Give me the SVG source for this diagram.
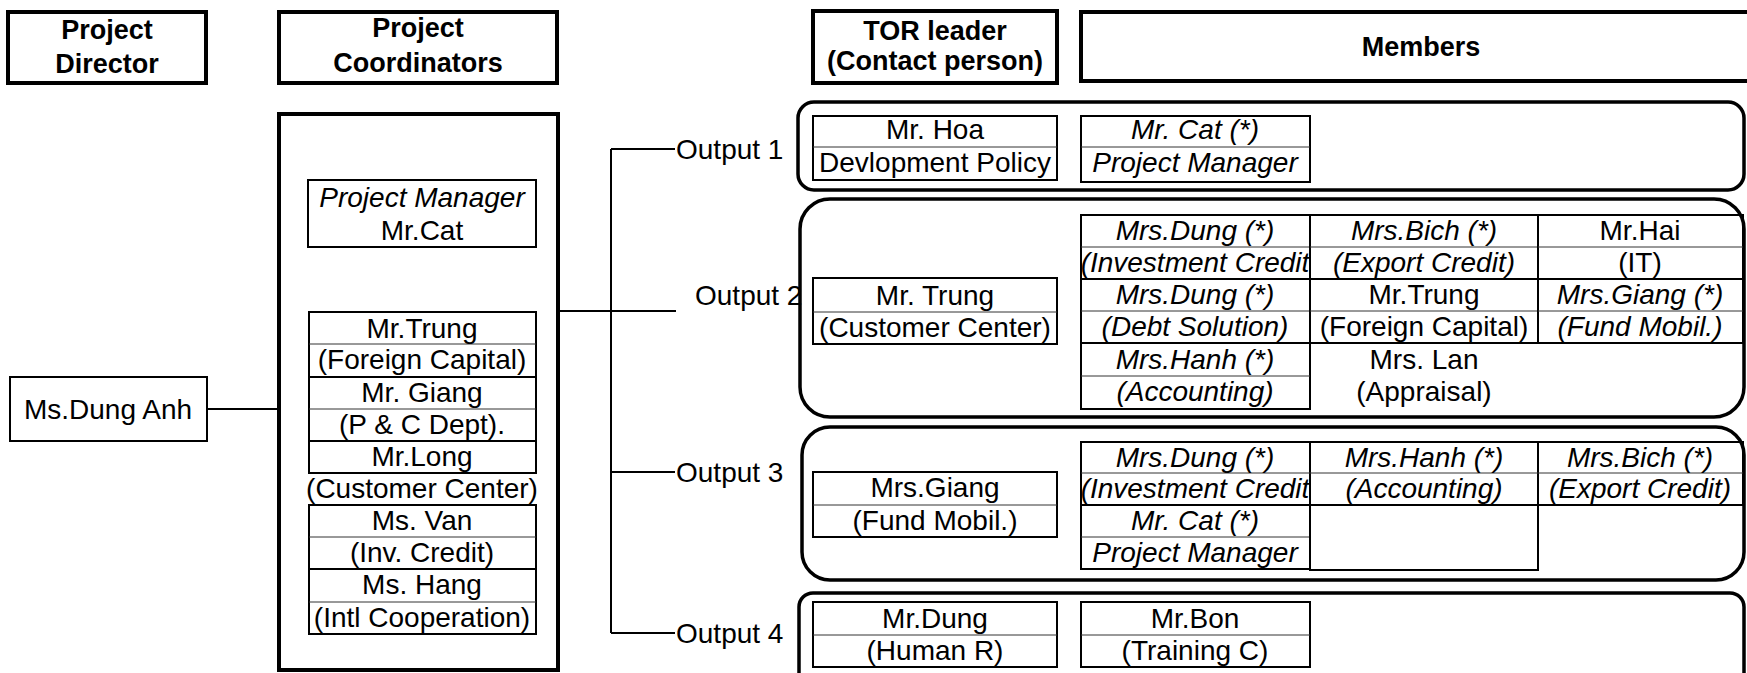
<svg xmlns="http://www.w3.org/2000/svg" width="1747" height="673" viewBox="0 0 1747 673">
<style>
.hdr{fill:none;stroke:#000;stroke-width:4}
.box{fill:none;stroke:#000;stroke-width:2}
.dv{stroke:#333;stroke-width:1;fill:none}
.grp{fill:none;stroke:#000;stroke-width:3.5}
.conn{stroke:#000;stroke-width:2;fill:none}
text{font-family:"Liberation Sans",Arial,sans-serif;font-size:28px;fill:#000;text-anchor:middle}
.b{font-weight:bold;font-size:27px}
.i{font-style:italic}
.s{text-anchor:start}
</style>
<rect width="1747" height="673" fill="#fff"/>

<g id="hdr-director">
<rect class="hdr" x="8" y="12" width="198" height="71"/>
<text class="b" x="107" y="39">Project</text>
<text class="b" x="107" y="73">Director</text>
</g>
<g id="hdr-coordinators">
<rect class="hdr" x="279" y="12" width="278" height="71"/>
<text class="b" x="418" y="37">Project</text>
<text class="b" x="418" y="72">Coordinators</text>
</g>
<g id="hdr-tor">
<rect class="hdr" x="813" y="11" width="244" height="72"/>
<text class="b" x="935" y="40">TOR leader</text>
<text class="b" x="935" y="70">(Contact person)</text>
</g>
<g id="hdr-members">
<rect class="hdr" x="1081" y="12" width="680" height="69"/>
<text class="b" x="1421" y="56">Members</text>
</g>

<g id="connectors">
<line class="conn" x1="207" y1="409" x2="279" y2="409"/>
<line class="conn" x1="558" y1="311" x2="676" y2="311"/>
<line class="conn" x1="611" y1="149" x2="611" y2="633"/>
<line class="conn" x1="611" y1="149" x2="675" y2="149"/>
<line class="conn" x1="611" y1="472" x2="675" y2="472"/>
<line class="conn" x1="611" y1="633" x2="675" y2="633"/>
</g>

<g id="director">
<rect class="box" x="10" y="377" width="197" height="64"/>
<text x="108" y="419">Ms.Dung Anh</text>
</g>

<g id="coordinators">
<rect class="hdr" x="279" y="114" width="279" height="556"/>
<rect class="box" x="308" y="180" width="228" height="67"/>
<text class="i" x="422" y="207">Project Manager</text>
<text x="422" y="240">Mr.Cat</text>

<rect class="box" x="309" y="312" width="227" height="65"/>
<line class="dv" x1="309" y1="344" x2="536" y2="344"/>
<text x="422" y="338">Mr.Trung</text>
<text x="422" y="369">(Foreign Capital)</text>

<rect class="box" x="309" y="377" width="227" height="64"/>
<line class="dv" x1="309" y1="409" x2="536" y2="409"/>
<text x="422" y="402">Mr. Giang</text>
<text x="422" y="434">(P &amp; C Dept).</text>

<rect class="box" x="309" y="441" width="227" height="32"/>
<text x="422" y="466">Mr.Long</text>
<text x="422" y="498">(Customer Center)</text>

<rect class="box" x="309" y="505" width="227" height="64"/>
<line class="dv" x1="309" y1="537" x2="536" y2="537"/>
<text x="422" y="530">Ms. Van</text>
<text x="422" y="562">(Inv. Credit)</text>

<rect class="box" x="309" y="569" width="227" height="65"/>
<line class="dv" x1="309" y1="602" x2="536" y2="602"/>
<text x="422" y="594">Ms. Hang</text>
<text x="422" y="627">(Intl Cooperation)</text>
</g>

<g id="output1">
<text class="s" x="676" y="159">Output 1</text>
<rect class="grp" x="798" y="102" width="946" height="88" rx="16"/>
<rect class="box" x="813" y="116" width="244" height="64"/>
<line class="dv" x1="813" y1="147" x2="1057" y2="147"/>
<text x="935" y="139">Mr. Hoa</text>
<text x="935" y="172">Devlopment Policy</text>
<rect class="box" x="1081" y="116" width="229" height="66"/>
<line class="dv" x1="1081" y1="147" x2="1310" y2="147"/>
<text class="i" x="1195" y="139">Mr. Cat (*)</text>
<text class="i" x="1195" y="172">Project Manager</text>
</g>

<g id="output2">
<text class="s" x="695" y="305">Output 2</text>
<rect class="grp" x="800" y="199" width="944" height="218" rx="30"/>
<rect class="box" x="813" y="278" width="244" height="66"/>
<line class="dv" x1="813" y1="312" x2="1057" y2="312"/>
<text x="935" y="305">Mr. Trung</text>
<text x="935" y="337">(Customer Center)</text>

<rect class="box" x="1081" y="215" width="229" height="64"/>
<rect class="box" x="1081" y="279" width="229" height="64"/>
<rect class="box" x="1081" y="343" width="229" height="66"/>
<line class="dv" x1="1081" y1="247" x2="1310" y2="247"/>
<line class="dv" x1="1081" y1="311" x2="1310" y2="311"/>
<line class="dv" x1="1081" y1="376" x2="1310" y2="376"/>
<text class="i" x="1195" y="240">Mrs.Dung (*)</text>
<text class="i" x="1195" y="272">(Investment Credit</text>
<text class="i" x="1195" y="304">Mrs.Dung (*)</text>
<text class="i" x="1195" y="336">(Debt Solution)</text>
<text class="i" x="1195" y="369">Mrs.Hanh (*)</text>
<text class="i" x="1195" y="401">(Accounting)</text>

<rect class="box" x="1310" y="215" width="228" height="64"/>
<rect class="box" x="1310" y="279" width="228" height="64"/>
<line class="dv" x1="1310" y1="247" x2="1538" y2="247"/>
<line class="dv" x1="1310" y1="311" x2="1538" y2="311"/>
<text class="i" x="1424" y="240">Mrs.Bich (*)</text>
<text class="i" x="1424" y="272">(Export Credit)</text>
<text x="1424" y="304">Mr.Trung</text>
<text x="1424" y="336">(Foreign Capital)</text>
<text x="1424" y="369">Mrs. Lan</text>
<text x="1424" y="401">(Appraisal)</text>

<rect class="box" x="1538" y="215" width="205" height="64"/>
<rect class="box" x="1538" y="279" width="205" height="64"/>
<line class="dv" x1="1538" y1="247" x2="1743" y2="247"/>
<line class="dv" x1="1538" y1="311" x2="1743" y2="311"/>
<text x="1640" y="240">Mr.Hai</text>
<text x="1640" y="272">(IT)</text>
<text class="i" x="1640" y="304">Mrs.Giang (*)</text>
<text class="i" x="1640" y="336">(Fund Mobil.)</text>
</g>

<g id="output3">
<text class="s" x="676" y="482">Output 3</text>
<rect class="grp" x="802" y="427" width="942" height="153" rx="28"/>
<rect class="box" x="813" y="472" width="244" height="65"/>
<line class="dv" x1="813" y1="505" x2="1057" y2="505"/>
<text x="935" y="497">Mrs.Giang</text>
<text x="935" y="530">(Fund Mobil.)</text>

<rect class="box" x="1081" y="442" width="662" height="63"/>
<line class="box" x1="1310" y1="442" x2="1310" y2="570"/>
<line class="box" x1="1538" y1="442" x2="1538" y2="505"/>
<line class="dv" x1="1081" y1="473" x2="1743" y2="473"/>
<text class="i" x="1195" y="467">Mrs.Dung (*)</text>
<text class="i" x="1195" y="498">(Investment Credit</text>
<text class="i" x="1424" y="467">Mrs.Hanh (*)</text>
<text class="i" x="1424" y="498">(Accounting)</text>
<text class="i" x="1640" y="467">Mrs.Bich (*)</text>
<text class="i" x="1640" y="498">(Export Credit)</text>

<rect class="box" x="1081" y="505" width="229" height="64"/>
<line class="dv" x1="1081" y1="537" x2="1310" y2="537"/>
<text class="i" x="1195" y="530">Mr. Cat (*)</text>
<text class="i" x="1195" y="562">Project Manager</text>
<rect class="box" x="1310" y="505" width="228" height="65"/>
</g>

<g id="output4">
<text class="s" x="676" y="643">Output 4</text>
<rect class="grp" x="799" y="593" width="945" height="110" rx="14"/>
<rect class="box" x="813" y="602" width="244" height="65"/>
<line class="dv" x1="813" y1="635" x2="1057" y2="635"/>
<text x="935" y="628">Mr.Dung</text>
<text x="935" y="660">(Human R)</text>
<rect class="box" x="1081" y="602" width="229" height="65"/>
<line class="dv" x1="1081" y1="635" x2="1310" y2="635"/>
<text x="1195" y="628">Mr.Bon</text>
<text x="1195" y="660">(Training C)</text>
</g>
</svg>
